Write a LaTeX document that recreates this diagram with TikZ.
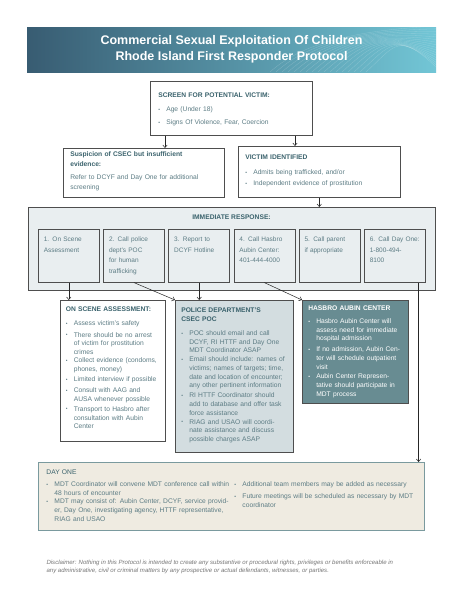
\documentclass[tikz,border=0pt]{standalone}
\usepackage{fontspec}
\setmainfont{Liberation Sans}
\usepackage{xcolor}
\usepackage{tikz}
\usetikzlibrary{arrows.meta, positioning}
\definecolor{headteal}{RGB}{58,98,108}
\definecolor{bodyteal}{RGB}{92,124,132}
\definecolor{boxline}{RGB}{78,78,78}
\definecolor{respfill}{RGB}{233,238,240}
\definecolor{policefill}{RGB}{211,221,224}
\definecolor{hasbrofill}{RGB}{104,140,146}
\definecolor{dayfill}{RGB}{239,235,225}
\definecolor{dayline}{RGB}{122,154,158}
\definecolor{bannerleft}{RGB}{56,92,114}
\definecolor{bannermid}{RGB}{62,112,138}
\definecolor{bannerright}{RGB}{114,198,214}
\definecolor{disclaim}{RGB}{118,118,118}

\newcommand{\bodysize}{\fontsize{6.7}{8.7}\selectfont}
\newcommand{\hd}[1]{{\bfseries\color{headteal}#1}}
\newcommand{\itz}[1]{\noindent\makebox[8pt][l]{\raisebox{0.4pt}{\fontsize{5}{5}\selectfont\textbullet}}\parbox[t]{\dimexpr\linewidth-8pt\relax}{\raggedright #1}}
\newcommand{\itm}[2][2.6pt]{\par\vspace{#1}\itz{#2}}

\tikzset{
  card/.style={draw=boxline, line width=0.6pt, fill=white, anchor=north west, align=left, inner xsep=7pt, text height=4.8pt, font=\bodysize, text=bodyteal},
  stepbox/.style={card, fill=respfill, text width=50pt, inner xsep=5.5pt, inner ysep=7.6pt, text depth=33pt, font=\fontsize{6.5}{10.6}\selectfont},
  arr/.style={line width=0.5pt, draw=black!85, -{Straight Barb[length=2.6pt,width=4.4pt]}},
}

\begin{document}
\begin{tikzpicture}[x=1pt, y=-1pt]
    \fill[white] (0,0) rectangle (463,600);
    \useasboundingbox (0,0) rectangle (463,600);

    % banner
    \shade[left color=bannerleft, middle color=bannermid, right color=bannerright] (27,27) rectangle (436,72);
    \begin{scope}
        \clip (27,27) rectangle (436,72);
        \foreach \k in {0,...,16}
            \draw[white, opacity=0.22, line width=0.3pt] ({270+\k*6},72) .. controls ({300+\k*6},45) and ({350+\k*3},30) .. (440,{26+\k*2.8});
    \end{scope}
    \node[text=white, font=\bfseries\fontsize{12.5}{16}\selectfont, align=center] (title) at (231.5,49.5) {Commercial Sexual Exploitation Of Children\\Rhode Island First Responder Protocol};

    % screening
    \node[card, text width=146pt, inner xsep=8pt, inner ysep=11.6pt, text depth=26pt] (screen) at (150,81) {
        \hd{SCREEN FOR POTENTIAL VICTIM:}
        \itm[5.3pt]{Age (Under 18)}
        \itm[4.3pt]{Signs Of Violence, Fear, Coercion}
    };
    \node[card, text width=147pt, inner ysep=3.6pt, text depth=37pt, font=\fontsize{6.7}{10}\selectfont] (susp) at (63,148) {
        \hd{Suspicion of CSEC but insufficient\\evidence:}\par\vspace{3pt}
        Refer to DCYF and Day One for additional\\screening
    };
    \node[card, text width=148pt, inner ysep=8.6pt, text depth=29pt] (victim) at (238,146) {
        \hd{VICTIM IDENTIFIED}
        \itm[6pt]{Admits being trafficked, and/or}
        \itm{Independent evidence of prostitution}
    };

    \coordinate (s1) at ([xshift=15pt]screen.south west);
    \coordinate (s2) at ([xshift=145pt]screen.south west);
    \draw[arr] (s1) -- (s1 |- susp.north);
    \draw[arr] (s2) -- (s2 |- victim.north);

    % immediate response
    \node[draw=boxline, line width=0.6pt, fill=respfill, anchor=north west, minimum width=407pt, minimum height=83pt, inner sep=0pt] (resp) at (28,207) {};
    \node[font=\bodysize] (resphead) at (231.5,217) {\hd{IMMEDIATE RESPONSE:}};
    \draw[arr] (victim.south) -- (victim.south |- resp.north);

    \foreach \i/\txt in {1/{1. On Scene\\Assessment}, 2/{2. Call police\\dept's POC\\for human\\trafficking}, 3/{3. Report to\\DCYF Hotline}, 4/{4. Call Hasbro\\Aubin Center:\\401-444-4000}, 5/{5. Call parent\\if appropriate}, 6/{6. Call Day One:\\1-800-494-\\8100}}
        \node[stepbox] (b\i) at ({38+(\i-1)*65.2},229) {\txt};

    % follow-up
    \node[card, text width=94pt, inner xsep=5.5pt, inner ysep=6.6pt, text depth=123pt] (scene) at (60,300) {
        \hd{ON SCENE ASSESSMENT:}
        \itm[5.3pt]{Assess victim's safety}
        \itm{There should be no arrest\\of victim for prostitution\\crimes}
        \itm{Collect evidence (condoms,\\phones, money)}
        \itm{Limited interview if possible}
        \itm{Consult with AAG and\\AUSA whenever possible}
        \itm{Transport to Hasbro after\\consultation with Aubin\\Center}
    };
    \node[card, fill=policefill, text width=106pt, inner xsep=6pt, inner ysep=7.6pt, text depth=132pt] (police) at (175,300) {
        \hd{POLICE DEPARTMENT'S\\CSEC POC}
        \itm[5.3pt]{POC should email and call\\DCYF, RI HTTF and Day One\\MDT Coordinator ASAP}
        \itm[2.9pt]{Email should include: names of\\victims; names of targets; time,\\date and location of encounter;\\any other pertinent information}
        \itm[2.9pt]{RI HTTF Coordinator should\\add to database and offer task\\force assistance}
        \itm[2.9pt]{RIAG and USAO will coordi-\\nate assistance and discuss\\possible charges ASAP}
    };
    \node[card, fill=hasbrofill, text=white, text width=94pt, inner xsep=6pt, inner ysep=5.6pt, text depth=87pt] (hasbro) at (302,300) {
        {\bfseries HASBRO AUBIN CENTER}
        \itm[4pt]{Hasbro Aubin Center will\\assess need for immediate\\hospital admission}
        \itm[3.8pt]{If no admission, Aubin Cen-\\ter will schedule outpatient\\visit}
        \itm[3.8pt]{Aubin Center Represen-\\tative should participate in\\MDT process}
    };

    \draw[arr] (b1.south) -- (b1.south |- scene.north);
    \draw[arr] (b2.south) -- (police.north west);
    \draw[arr] (b3.south) -- (b3.south |- police.north);
    \draw[arr] (b4.south) -- (hasbro.north west);

    % day one
    \node[card, fill=dayfill, draw=dayline, line width=0.9pt, text width=370pt, inner xsep=8pt, inner ysep=7.6pt, text depth=48pt] (day) at (38,462) {
        {\color{headteal}DAY ONE}\par\vspace{3.2pt}
        \parbox[t]{188pt}{\raggedright
            \itz{MDT Coordinator will convene MDT conference call within\\48 hours of encounter}
            \itm{MDT may consist of: Aubin Center, DCYF, service provid-\\er, Day One, investigating agency, HTTF representative,\\RIAG and USAO}}%
        \parbox[t]{180pt}{\raggedright
            \itz{Additional team members may be added as necessary}
            \itm[3pt]{Future meetings will be scheduled as necessary by MDT\\coordinator}}
    };
    \coordinate (d6) at ([xshift=-7pt]b6.south east);
    \draw[arr] (d6) -- (d6 |- day.north);

    \node[font=\itshape\fontsize{6.05}{8}\selectfont, text=disclaim, align=left, anchor=west] (disc) at (43,567) {Disclaimer: Nothing in this Protocol is intended to create any substantive or procedural rights, privileges or benefits enforceable in\\any administrative, civil or criminal matters by any prospective or actual defendants, witnesses, or parties.};
\end{tikzpicture}
\end{document}
